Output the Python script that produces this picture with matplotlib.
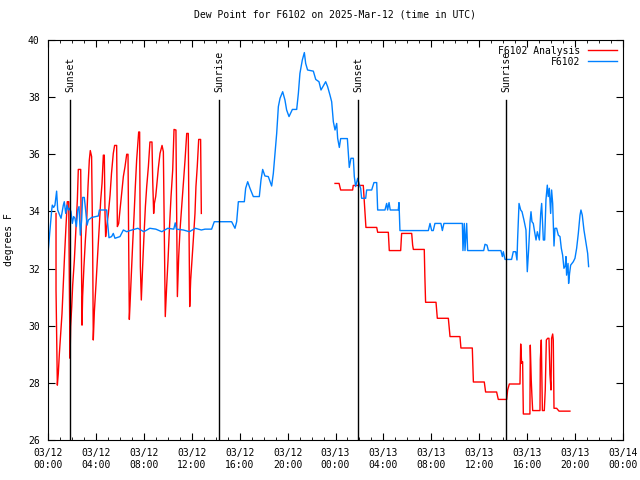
import matplotlib
matplotlib.use("Agg")
import matplotlib.pyplot as plt
import matplotlib.transforms as mtransforms

# hours since 2025-03-12 00:00 UTC, dew point in F
obs_hours = [0.03, 0.14, 0.31, 0.36, 0.47, 0.58, 0.67, 0.72, 0.81, 0.92, 1.09, 1.28, 1.36, 1.48, 1.59,
             1.70, 1.81, 1.92, 2.03, 2.14, 2.25, 2.37, 2.48, 2.59, 2.70, 2.81, 2.89, 3.03, 3.14, 3.26,
             3.37, 3.65, 4.20, 4.29, 4.90, 4.98, 5.09, 5.31, 5.45, 5.59, 6.01, 6.29, 6.57, 6.84, 7.5,
             8.0, 8.5, 9.0, 9.5, 10.0, 10.5, 10.62, 10.72, 11.3, 11.8, 12.3, 12.8, 13.11, 13.66, 13.88,
             15.33, 15.61, 15.75, 15.89, 16.39, 16.50, 16.67, 16.86, 17.14, 17.64, 17.78, 17.92, 18.11,
             18.39, 18.67, 18.81, 18.95, 19.09, 19.23, 19.37, 19.59, 19.78, 19.92, 20.12, 20.40, 20.76,
             20.90, 21.03, 21.23, 21.40, 21.51, 21.67, 22.15, 22.35, 22.62, 22.79, 22.95, 23.18, 23.34,
             23.54, 23.68, 23.82, 23.96, 24.10, 24.18, 24.32, 24.43, 24.99, 25.07, 25.15, 25.29, 25.49,
             25.57, 25.68, 25.85, 25.96, 26.10, 26.18, 26.52, 26.60, 27.02, 27.21, 27.44, 27.52, 28.13,
             28.27, 28.35, 28.47, 28.57, 29.24, 29.30, 29.38, 31.75, 31.89, 32.03, 32.16, 32.30, 32.80,
             32.92, 33.05, 34.59, 34.64, 34.75, 34.81, 34.95, 35.03, 36.37, 36.48, 36.65, 36.76, 37.81,
             37.93, 38.01, 38.15, 38.70, 38.84, 39.04, 39.15, 39.20, 39.32, 39.46, 39.57, 39.73, 39.90,
             40.01, 40.12, 40.24, 40.32, 40.40, 40.51, 40.62, 40.74, 40.85, 41.02, 41.13, 41.21, 41.35,
             41.46, 41.57, 41.68, 41.76, 41.85, 41.96, 42.04, 42.13, 42.24, 42.32, 42.46, 42.60, 42.74,
             42.85, 42.96, 43.07, 43.18, 43.24, 43.29, 43.41, 43.46, 43.54, 43.63, 43.85, 43.99, 44.13,
             44.27, 44.41, 44.49, 44.60, 44.74, 44.85, 44.96, 45.05, 45.13]
obs_dew = [32.65, 33.23, 34.05, 34.22, 34.14, 34.22, 34.52, 34.71, 34.05, 33.93, 33.76, 34.22, 34.34, 33.93, 34.22,
           34.05, 34.11, 33.99, 33.58, 33.82, 33.76, 33.47, 34.05, 34.17, 33.17, 33.70, 34.49, 34.49, 34.05, 33.52,
           33.70, 33.79, 33.84, 34.05, 34.05, 33.58, 33.08, 33.12, 33.23, 33.06, 33.12, 33.35, 33.29, 33.33, 33.41,
           33.29, 33.41, 33.38, 33.29, 33.41, 33.38, 33.60, 33.38, 33.35, 33.29, 33.41, 33.35, 33.38, 33.38, 33.64,
           33.64, 33.41, 33.64, 34.34, 34.34, 34.81, 35.04, 34.81, 34.52, 34.52, 35.10, 35.47, 35.24,
           35.22, 34.89, 35.33, 36.03, 36.73, 37.67, 37.96, 38.19, 37.90, 37.55, 37.32, 37.57, 37.57,
           38.13, 38.83, 39.30, 39.56, 39.18, 38.95, 38.91, 38.62, 38.54, 38.25, 38.37, 38.54, 38.37,
           38.07, 37.84, 37.14, 36.85, 37.08, 36.56, 36.24, 36.55, 36.55, 36.03, 35.54, 35.86, 35.86,
           35.22, 34.87, 35.16, 34.98, 34.81, 34.46, 34.46, 34.75, 34.75, 35.01, 35.01, 34.05, 34.05,
           34.28, 34.05, 34.31, 34.05, 34.05, 34.31, 33.33, 33.33, 33.58, 33.33, 33.33, 33.58, 33.58,
           33.33, 33.58, 33.58, 32.63, 33.58, 32.63, 33.58, 32.63, 32.63, 32.85, 32.82, 32.63, 32.63,
           32.42, 32.59, 32.32, 32.32, 32.59, 32.59, 32.30, 33.00, 34.28, 34.05, 33.99, 33.70, 33.35,
           31.89, 32.65, 33.64, 33.99, 33.64, 33.58, 33.29, 33.00, 33.29, 33.00, 33.93, 34.28, 33.00,
           33.00, 34.42, 34.92, 34.52, 34.81, 33.93, 34.75, 34.28, 32.79, 33.41, 33.41, 33.17, 33.12,
           32.71, 32.47, 32.01, 32.09, 32.42, 31.77, 32.18, 31.48, 31.83, 32.12, 32.24, 32.36, 32.71,
           33.23, 33.87, 34.05, 33.87, 33.35, 33.06, 32.77, 32.53, 32.07]

ana1_hours = [0.67, 0.67, 0.78, 0.86, 0.95, 1.06, 1.17, 1.28, 1.39, 1.50, 1.61, 1.73, 1.78, 1.84, 1.89,
              1.98, 2.06, 2.20, 2.34, 2.45, 2.53, 2.73, 2.78, 2.84, 2.89, 3.00, 3.12, 3.23, 3.34, 3.45,
              3.53, 3.64, 3.73, 3.78, 3.87, 4.01, 4.15, 4.28, 4.40, 4.51, 4.62, 4.70, 4.76, 4.81, 4.90,
              5.04, 5.18, 5.30, 5.45, 5.56, 5.73, 5.79, 5.90, 6.01, 6.15, 6.29, 6.43, 6.57, 6.68, 6.73,
              6.79, 6.84, 6.96, 7.07, 7.18, 7.29, 7.40, 7.51, 7.57, 7.65, 7.71, 7.79, 7.90, 8.01, 8.13,
              8.24, 8.38, 8.51, 8.68, 8.74, 8.82, 8.88, 8.99, 9.07, 9.21, 9.35, 9.52, 9.63, 9.71, 9.79,
              9.91, 10.02, 10.13, 10.27, 10.41, 10.52, 10.68, 10.74, 10.80, 10.91, 11.02, 11.16, 11.30,
              11.44, 11.58, 11.71, 11.77, 11.83, 11.91, 12.02, 12.13, 12.27, 12.35, 12.46, 12.58, 12.74,
              12.80]
ana1_dew = [33.93, 31.25, 27.92, 28.33, 29.03, 29.73, 30.43, 31.48, 32.53, 33.47, 34.34, 34.34, 31.60, 28.86, 29.97,
            30.67, 31.42, 32.30, 33.47, 34.40, 35.47, 35.47, 33.00, 30.02, 31.02, 32.07, 33.00, 33.70, 34.87, 35.80,
            36.13, 35.92, 32.71, 29.50, 30.49, 31.48, 32.53, 33.47, 34.40, 34.98, 35.97, 35.97, 33.93, 33.12, 33.47,
            33.93, 34.57, 35.33, 36.03, 36.31, 36.31, 33.47, 33.58, 34.05, 34.63, 35.22, 35.57, 36.00, 36.00, 33.12,
            30.22, 30.67, 31.83, 32.88, 33.82, 34.87, 35.80, 36.43, 36.78, 36.78, 32.07, 30.90, 32.07, 33.12, 34.17,
            34.87, 35.57, 36.43, 36.43, 35.10, 33.93, 34.28, 34.52, 34.87, 35.51, 36.03, 36.31, 36.09, 33.23, 30.32,
            31.42, 32.30, 33.35, 34.52, 35.45, 36.87, 36.85, 33.93, 31.02, 32.42, 33.35, 34.17, 34.98,
            35.80, 36.73, 36.73, 33.47, 30.67, 31.60, 32.30, 33.00, 33.93, 34.87, 35.57, 36.52, 36.52,
            33.93]

ana2_hours = [23.96, 24.30, 24.43, 25.43, 25.48, 26.32, 26.43, 26.54, 27.44, 27.52, 28.41, 28.49, 29.44,
              29.52, 30.36, 30.44, 30.50, 31.41, 31.46, 31.52, 32.39, 32.50, 33.42, 33.56, 34.39, 34.47,
              35.42, 35.51, 36.42, 36.53, 37.45, 37.59, 38.29, 38.37, 38.51, 39.40, 39.46, 39.54, 39.62,
              39.68, 40.23, 40.26, 40.34, 40.40, 40.46, 41.07, 41.10, 41.18, 41.27, 41.43, 41.51, 41.60,
              41.71, 41.82, 41.90, 41.99, 42.04, 42.13, 42.18, 42.24, 42.46, 42.66, 43.57]
ana2_dew = [34.98, 34.98, 34.75, 34.75, 34.91, 34.91, 34.17, 33.44, 33.44, 33.27, 33.27, 32.63, 32.63,
            33.23, 33.23, 32.82, 32.67, 32.67, 31.72, 30.82, 30.82, 30.26, 30.26, 29.62, 29.62, 29.22,
            29.22, 28.03, 28.03, 27.68, 27.68, 27.42, 27.42, 27.75, 27.96, 27.96, 29.36, 28.68, 28.74,
            26.91, 26.91, 29.32, 28.10, 27.52, 27.03, 27.03, 28.82, 29.50, 27.03, 27.03, 27.75, 29.50,
            29.56, 29.56, 28.30, 27.75, 29.56, 29.71, 29.50, 27.11, 27.11, 27.01, 27.01]

sun_hours = [1.84, 14.27, 25.88, 38.23]
sun_labels = ["Sunset", "Sunrise", "Sunset", "Sunrise"]

tick_hours = list(range(0, 49, 4))
tick_labels = ["03/12\n00:00", "03/12\n04:00", "03/12\n08:00", "03/12\n12:00", "03/12\n16:00",
               "03/12\n20:00", "03/13\n00:00", "03/13\n04:00", "03/13\n08:00", "03/13\n12:00",
               "03/13\n16:00", "03/13\n20:00", "03/14\n00:00"]

plt.rcParams['font.family'] = 'DejaVu Sans Mono'
plt.rcParams['font.size'] = 7

fig = plt.figure(figsize=(6.4, 4.8), dpi=100)
ax = fig.add_axes([48 / 640, 40 / 480, 575 / 640, 400 / 480])

ax.plot(ana1_hours, ana1_dew, color='#ff0000', lw=1.0, label='F6102 Analysis')
ax.plot(ana2_hours, ana2_dew, color='#ff0000', lw=1.0)
ax.plot(obs_hours, obs_dew, color='#0080ff', lw=1.0, label='F6102')

trans = mtransforms.blended_transform_factory(ax.transData, ax.transAxes)
for h, lab in zip(sun_hours, sun_labels):
    ax.axvline(h, ymin=0, ymax=0.85, color='black', lw=1.0)
    ax.text(h, 0.87, lab, transform=trans, rotation=90, ha='center', va='bottom')

ax.set_xlim(0, 48)
ax.set_ylim(26, 40)
ax.set_xticks(tick_hours)
ax.set_xticklabels(tick_labels)
ax.set_xticks(range(0, 49), minor=True)
ax.set_yticks(range(26, 41, 2))
ax.tick_params(which='both', direction='in', top=True, right=True, pad=6)
ax.tick_params(which='major', length=5)
ax.tick_params(which='minor', length=2.5)

ax.set_ylabel('degrees F', fontsize=7, labelpad=10)
ax.set_title('Dew Point for F6102 on 2025-Mar-12 (time in UTC)', fontsize=7, pad=16)
ax.legend(loc='upper right', frameon=False, markerfirst=False, handlelength=3,
          borderaxespad=0.2, labelspacing=0.1)

fig.savefig('out.png', dpi=100)
